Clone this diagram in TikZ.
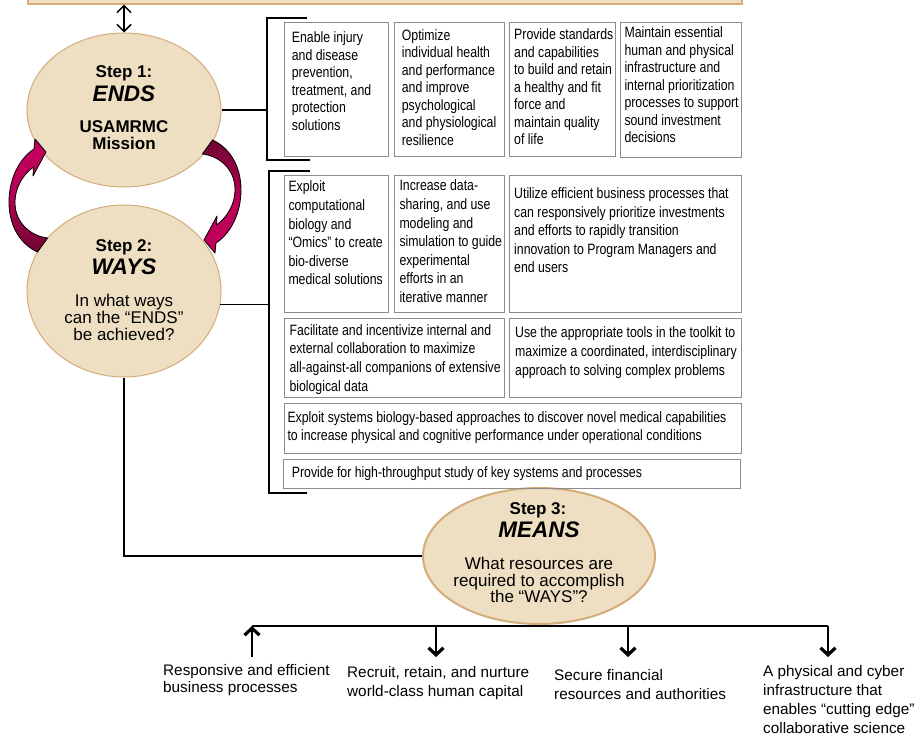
\documentclass[tikz,border=0pt]{standalone}
\usepackage{fontspec}
\setmainfont{Liberation Sans}
\newfontfamily\narrowfont[FakeStretch=0.82]{Liberation Sans}
\usetikzlibrary{shapes.geometric,arrows.meta}
\definecolor{tanfill}{HTML}{EEDFC3}
\definecolor{tanline}{HTML}{D3AC7A}
\definecolor{boxgray}{HTML}{8C8C8C}
\definecolor{magentar}{HTML}{C4005C}
\definecolor{maroonr}{HTML}{6E0630}
\newcommand\firstln{\rule{0pt}{13pt}}
\begin{document}
\begin{tikzpicture}[x=1pt,y=-1pt,
  ell/.style={ellipse, draw=tanline, fill=tanfill, line width=1pt, inner sep=0},
  boxst/.style={rectangle, draw=boxgray, line width=1.1pt, anchor=north west, inner sep=0},
  tx/.style={anchor=north west, inner sep=0, align=left, font=\narrowfont\fontsize{15}{17.5}\selectfont},
  txb/.style={anchor=north west, inner sep=0, align=left, font=\narrowfont\fontsize{15}{18.6}\selectfont},
  lt/.style={anchor=base, inner sep=0, font=\fontsize{17}{20}\selectfont},
  ltb/.style={anchor=base, inner sep=0, font=\bfseries\fontsize{17}{20}\selectfont},
  ltt/.style={anchor=base, inner sep=0, font=\bfseries\itshape\fontsize{22.5}{26}\selectfont},
  mt/.style={anchor=north west, inner sep=0, align=left, font=\fontsize{15.3}{18.7}\selectfont},
  ln/.style={line width=1.3pt},
  bar/.style={line width=1.4pt, -{Straight Barb[length=7pt,width=15pt,line width=3.2pt]}},
  redarrow/.style={draw=black, line width=0.8pt, line join=round},
]
\useasboundingbox (0,0) rectangle (922,736);

% banner at top
\node[rectangle, draw=tanline, fill=tanfill, line width=1.2pt, minimum width=714pt, minimum height=16pt, inner sep=0] (banner) at (385,-4) {};

% ellipses
\node[ell, minimum width=194pt, minimum height=154pt] (e1) at (124,110) {};
\node[ell, minimum width=194pt, minimum height=172pt] (e2) at (124,291) {};
\node[ell, line width=2pt, minimum width=232pt, minimum height=136pt] (e3) at (539,556) {};

% top row boxes
\node[boxst, minimum width=104pt, minimum height=134pt] (b1) at (284,22) {};
\node[boxst, minimum width=110pt, minimum height=134pt] (b2) at (394,22) {};
\node[boxst, minimum width=106pt, minimum height=134pt] (b3) at (509,22) {};
\node[boxst, minimum width=121pt, minimum height=135pt] (b4) at (620,21.5) {};

% second group boxes
\node[boxst, minimum width=104pt, minimum height=137pt] (bA) at (284,175) {};
\node[boxst, minimum width=110pt, minimum height=137pt] (bB) at (394,175) {};
\node[boxst, minimum width=232pt, minimum height=137pt] (bC) at (509,175) {};
\node[boxst, minimum width=220pt, minimum height=79pt] (bD) at (284,318) {};
\node[boxst, minimum width=232pt, minimum height=79pt] (bE) at (509,318) {};
\node[boxst, minimum width=457pt, minimum height=50pt] (bF) at (284,403) {};
\node[boxst, minimum width=457pt, minimum height=29pt] (bG) at (283,459) {};

% double arrow
\draw[line width=1.5pt, {Straight Barb[length=7pt,width=14pt]}-{Straight Barb[length=7pt,width=14pt]}] (banner.south -| e1.north) -- (e1.north);

% bracket 1
\coordinate (k1a) at (307,18);
\coordinate (k1b) at (267,18);
\coordinate (k1c) at (267,160);
\coordinate (k1d) at (310,160);
\draw[ln] (k1a) -- (k1b) -- (k1c) -- (k1d);
\draw[ln] (e1.east) -- (e1.east -| k1b);

% bracket 2
\coordinate (k2a) at (310,171);
\coordinate (k2b) at (269,171);
\coordinate (k2c) at (269,493);
\coordinate (k2d) at (307,493);
\draw[ln] (k2a) -- (k2b) -- (k2c) -- (k2d);
\draw[ln] (e2.-8.3) -- (e2.-8.3 -| k2b);

% ways to means
\draw[ln] (e2.south) |- (e3.west);

% bottom bus
\coordinate (bus1) at (252,626);
\coordinate (bus2) at (436,626);
\coordinate (bus3) at (628,626);
\coordinate (bus4) at (828,626);
\coordinate (d1) at (252,657);
\coordinate (d2) at (436,657);
\coordinate (d3) at (628,657);
\coordinate (d4) at (828,657);
\draw[ln] (bus1) -- (bus4);
\draw[bar] (d1) -- (bus1);
\draw[bar] (bus2) -- (d2);
\draw[bar] (bus3) -- (d3);
\draw[bar] (bus4) -- (d4);

% red curved arrows (left: WAYS -> ENDS, right: ENDS -> WAYS)
\shade[redarrow, top color=magentar, bottom color=maroonr, middle color=magentar!85!maroonr]
  (37.5,252) .. controls (22,245) and (9,228) .. (9,202)
  .. controls (9,178) and (20,158) .. (34,149)
  -- (35,139) -- (46,152) -- (33,176) -- (33.5,167)
  .. controls (24,174) and (15,186) .. (15,203)
  .. controls (15,222) and (30,236) .. (47.6,238) -- cycle;
\shade[redarrow, top color=maroonr, bottom color=magentar, middle color=magentar!85!maroonr]
  (212.5,140) .. controls (228,147) and (241,164) .. (241,190)
  .. controls (241,214) and (230,234) .. (216,243)
  -- (215,253) -- (204,240) -- (217,216) -- (216.5,225)
  .. controls (226,218) and (235,206) .. (235,189)
  .. controls (235,170) and (220,156) .. (202.4,154) -- cycle;

% ellipse texts
\node[ltb] (s1) at (124,77.7) {Step 1:};
\node[ltt] (n1) at (124,101) {ENDS};
\node[ltb] (m1a) at (124,132.7) {USAMRMC};
\node[ltb] (m1b) at (124,149.3) {Mission};

\node[ltb] (s2) at (124,251) {Step 2:};
\node[ltt] (n2) at (124,274) {WAYS};
\node[lt] (q2a) at (124,306) {In what ways};
\node[lt] (q2b) at (124,323.3) {can the “ENDS”};
\node[lt] (q2c) at (124,340.7) {be achieved?};

\node[ltb] (s3) at (538,514) {Step 3:};
\node[ltt] (n3) at (539,537.3) {MEANS};
\node[lt] (q3a) at (539,569) {What resources are};
\node[lt] (q3b) at (539,586) {required to accomplish};
\node[lt] (q3c) at (539,602.7) {the “WAYS”?};

% top row texts
\node[tx] (t1) at (291.7,29.3) {\firstln Enable injury\\and disease\\prevention,\\treatment, and\\protection\\solutions};
\node[tx] (t2) at (401.7,27) {\firstln Optimize\\individual health\\and performance\\and improve\\psychological\\and physiological\\resilience};
\node[tx] (t3) at (514,26.5) {\firstln Provide standards\\and capabilities\\to build and retain\\a healthy and fit\\force and\\maintain quality\\of life};
\node[tx] (t4) at (624.3,24.3) {\firstln Maintain essential\\human and physical\\infrastructure and\\internal prioritization\\processes to support\\sound investment\\decisions};

% second group texts
\node[txb] (tA) at (288.3,178.7) {\firstln Exploit\\computational\\biology and\\“Omics” to create\\bio-diverse\\medical solutions};
\node[txb] (tB) at (399.3,177.7) {\firstln Increase data-\\sharing, and use\\modeling and\\simulation to guide\\experimental\\efforts in an\\iterative manner};
\node[txb] (tC) at (514,185.3) {\firstln Utilize efficient business processes that\\can responsively prioritize investments\\and efforts to rapidly transition\\innovation to Program Managers and\\end users};
\node[txb] (tD) at (289.3,322) {\firstln Facilitate and incentivize internal and\\external collaboration to maximize\\all-against-all companions of extensive\\biological data};
\node[txb] (tE) at (515,324.7) {\firstln Use the appropriate tools in the toolkit to\\maximize a coordinated, interdisciplinary\\approach to solving complex problems};
\node[tx] (tF) at (287.3,409.7) {\firstln Exploit systems biology-based approaches to discover novel medical capabilities\\to increase physical and cognitive performance under operational conditions};
\node[tx] (tG) at (291.7,464.3) {\firstln Provide for high-throughput study of key systems and processes};

% means texts
\node[mt, font=\fontsize{15.3}{17}\selectfont] (r1) at (163,662) {\firstln Responsive and efficient\\business processes};
\node[mt] (r2) at (347,664.3) {\firstln Recruit, retain, and nurture\\world-class human capital};
\node[mt, font=\fontsize{15.3}{19}\selectfont] (r3) at (554,667) {\firstln Secure financial\\resources and authorities};
\node[mt, font=\fontsize{15.3}{19}\selectfont] (r4) at (763,663) {\firstln A physical and cyber\\infrastructure that\\enables “cutting edge”\\collaborative science};
\end{tikzpicture}
\end{document}
